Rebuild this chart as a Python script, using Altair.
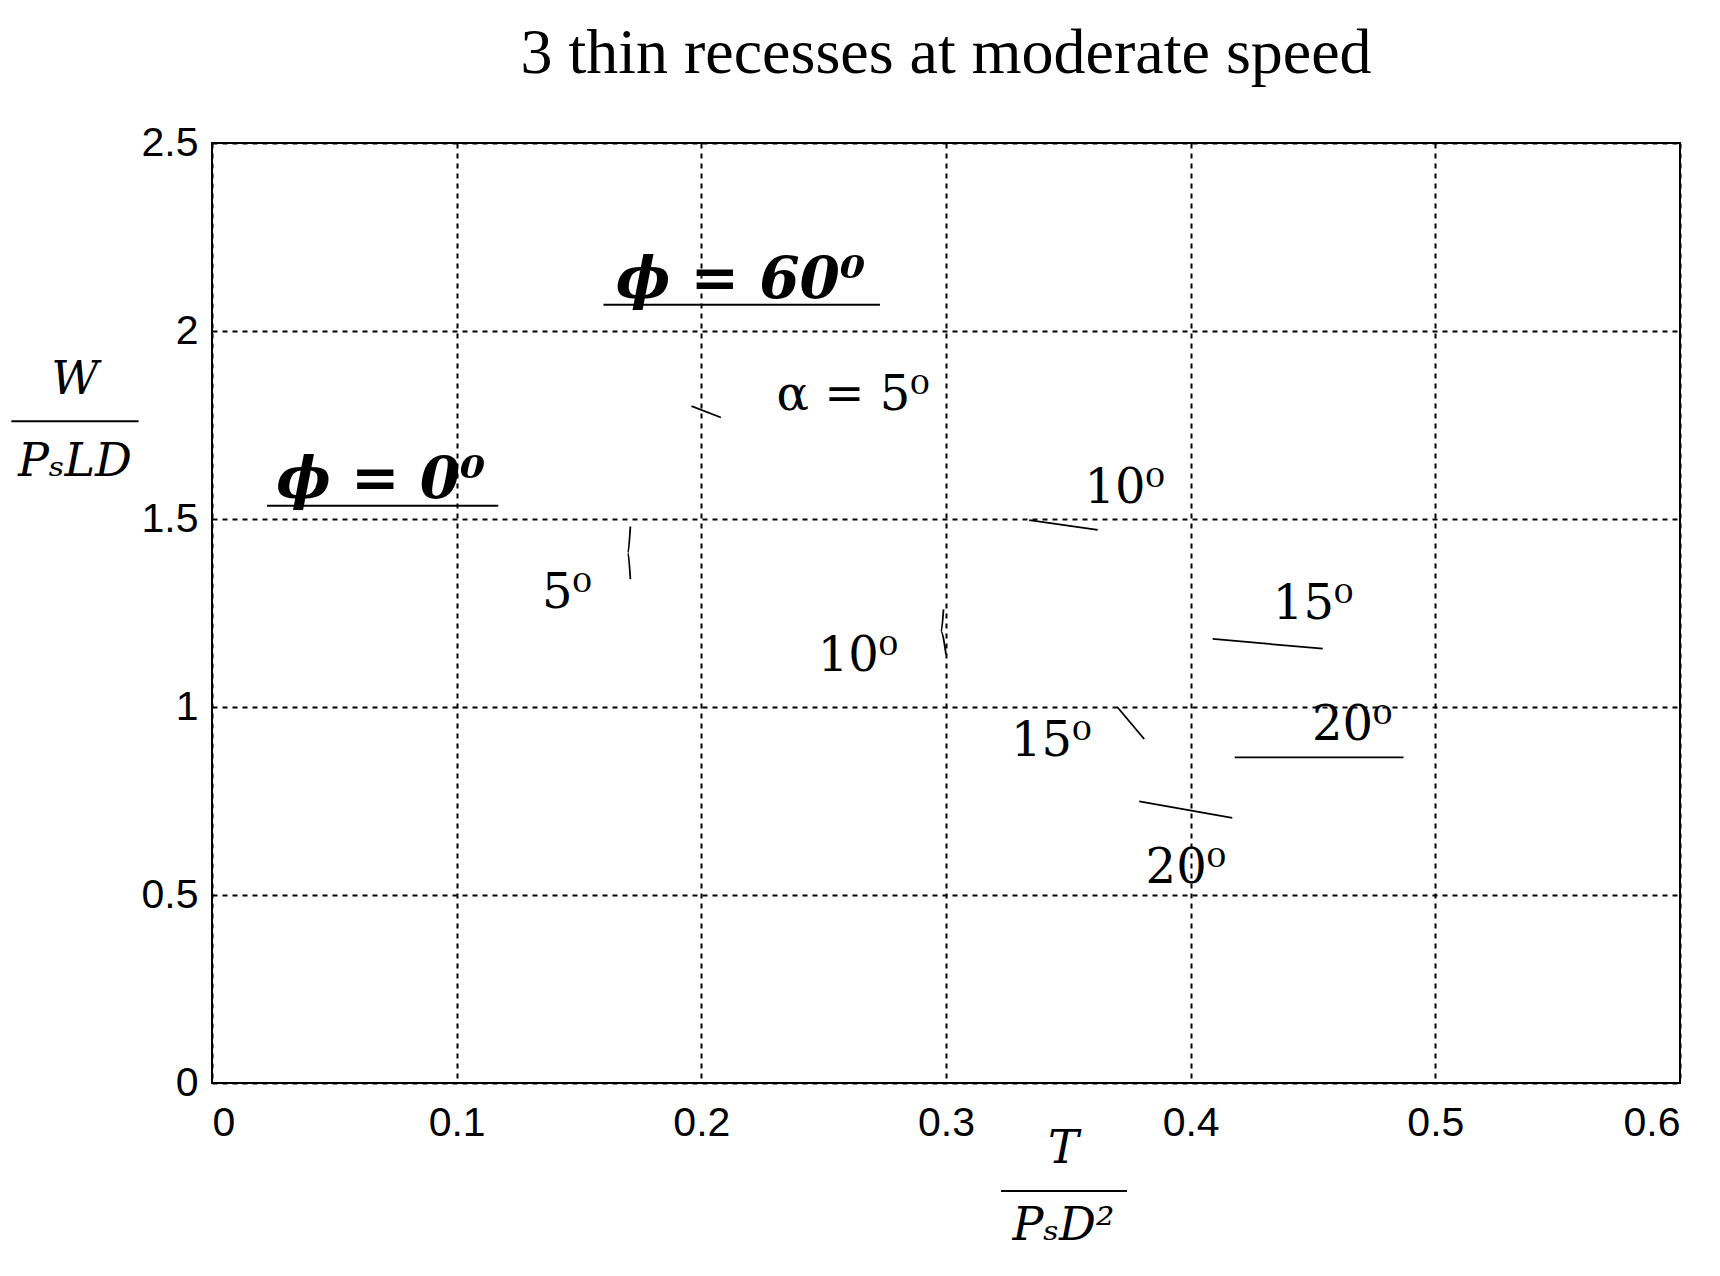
import altair as alt
import pandas as pd

# curve fragments (T/(Ps D^2), W/(Ps L D))
seg_id = ["a5", "a5", "p0_5", "p0_5", "p0_5", "p0_10", "p0_10", "p0_10",
          "p60_10", "p60_10", "p0_15", "p0_15", "p60_15", "p60_15",
          "p0_20", "p0_20", "p60_20", "p60_20"]
seg_x = [0.196, 0.208, 0.171, 0.170, 0.171, 0.299, 0.298, 0.300,
         0.334, 0.362, 0.370, 0.381, 0.409, 0.454,
         0.379, 0.417, 0.418, 0.487]
seg_y = [1.80, 1.77, 1.48, 1.41, 1.34, 1.26, 1.20, 1.14,
         1.497, 1.471, 1.00, 0.915, 1.181, 1.155,
         0.749, 0.705, 0.866, 0.866]

lab_text = ["α = 5⁰", "5⁰", "10⁰", "10⁰", "15⁰", "15⁰", "20⁰", "20⁰"]
lab_x = [0.262, 0.145, 0.264, 0.373, 0.450, 0.343, 0.466, 0.398]
lab_y = [1.827, 1.301, 1.132, 1.579, 1.272, 0.906, 0.950, 0.570]

phi_text = ["ϕ = 60⁰", "ϕ = 0⁰"]
phi_x = [0.216, 0.069]
phi_y = [2.134, 1.602]
ul_x = [0.160, 0.0225]
ul_x2 = [0.273, 0.117]
ul_y = [2.070, 1.535]

ax_text = ["W", "PₛLD", "T", "PₛD²"]
ax_x = [-0.056, -0.056, 0.348, 0.348]
ax_y = [1.871, 1.652, -0.175, -0.380]
bar_x = [-0.082, 0.3225]
bar_x2 = [-0.030, 0.374]
bar_y = [1.760, -0.287]

xs = alt.Scale(domain=[0, 0.6], nice=False)
ys = alt.Scale(domain=[0, 2.5], nice=False)
X = alt.X("x:Q", scale=xs, title=None,
          axis=alt.Axis(values=[0, 0.1, 0.2, 0.3, 0.4, 0.5, 0.6], format=".1~f",
                        labelExpr="datum.value == 0 ? '0' : datum.label"))
Y = alt.Y("y:Q", scale=ys, title=None,
          axis=alt.Axis(values=[0, 0.5, 1, 1.5, 2, 2.5], format=".1~f",
                        labelExpr="datum.value == 0 ? '0' : datum.label"))

segs = pd.DataFrame({"id": seg_id, "x": seg_x, "y": seg_y})
lines = alt.Chart(segs).mark_line(color="black", strokeWidth=1.8, interpolate="monotone").encode(
    x=X, y=Y, detail="id:N", order=alt.Order("y:Q", sort="descending"))

labs = pd.DataFrame({"t": lab_text, "x": lab_x, "y": lab_y})
lab_chart = alt.Chart(labs).mark_text(font="DejaVu Serif", fontSize=48, color="black").encode(
    x="x:Q", y="y:Q", text="t:N")

phis = pd.DataFrame({"t": phi_text, "x": phi_x, "y": phi_y})
phi_chart = alt.Chart(phis).mark_text(font="DejaVu Serif", fontSize=58, fontWeight="bold",
                                      fontStyle="italic", color="black").encode(
    x="x:Q", y="y:Q", text="t:N")

uls = pd.DataFrame({"x": ul_x, "x2": ul_x2, "y": ul_y})
ul_chart = alt.Chart(uls).mark_rule(color="black", strokeWidth=2).encode(
    x="x:Q", x2="x2:Q", y="y:Q")

axl = pd.DataFrame({"t": ax_text, "x": ax_x, "y": ax_y})
axl_chart = alt.Chart(axl).mark_text(font="DejaVu Serif", fontSize=46, fontStyle="italic",
                                     color="black").encode(x="x:Q", y="y:Q", text="t:N")
bars = pd.DataFrame({"x": bar_x, "x2": bar_x2, "y": bar_y})
bar_chart = alt.Chart(bars).mark_rule(color="black", strokeWidth=2).encode(
    x="x:Q", x2="x2:Q", y="y:Q")

chart = (
    alt.layer(lines, ul_chart, bar_chart, lab_chart, phi_chart, axl_chart)
    .properties(
        width=1468, height=940,
        autosize=alt.AutoSizeParams(type="none"),
        padding={"left": 204, "top": 135, "right": 32, "bottom": 185},
        title=alt.TitleParams("3 thin recesses at moderate speed", font="Liberation Serif",
                              fontSize=64, fontWeight="normal", color="black", offset=36),
    )
    .configure_view(stroke="black", strokeWidth=2)
    .configure_axis(
        grid=True, gridColor="black", gridDash=[5, 5], gridWidth=2, gridOpacity=1,
        domain=False, ticks=False, labelFont="Liberation Sans", labelFontSize=41,
        labelColor="black",
    )
    .configure_axisX(labelPadding=20)
    .configure_axisY(labelPadding=14)
)

chart.save("out.html", embed_options={"renderer": "svg", "actions": False})
